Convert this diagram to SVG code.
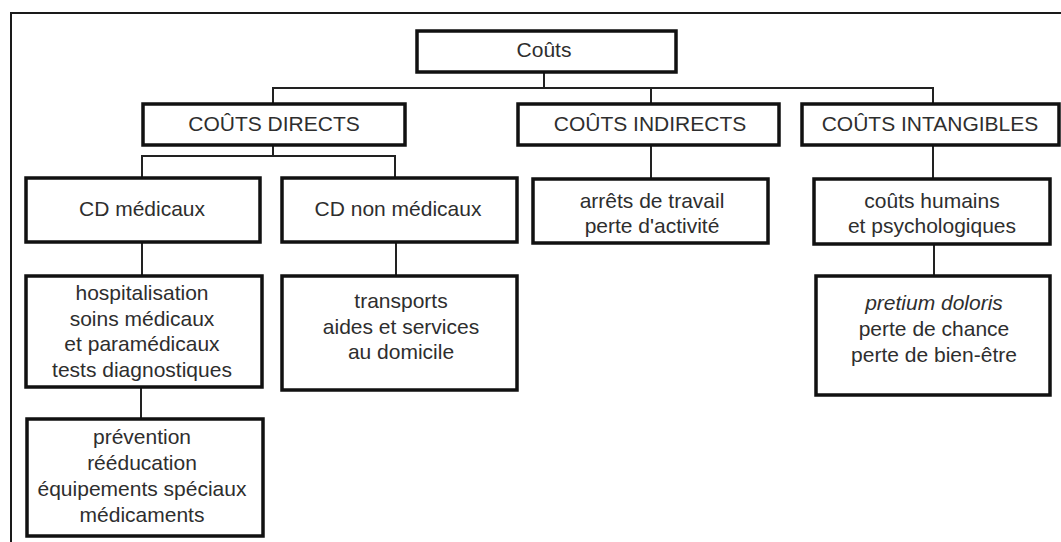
<svg xmlns="http://www.w3.org/2000/svg" width="1061" height="542" viewBox="0 0 1061 542">
  <style>
    .box { fill: #ffffff; stroke: #111111; stroke-width: 3.5; }
    .link { fill: none; stroke: #222222; stroke-width: 2; }
    .frame { fill: none; stroke: #1a1a1a; stroke-width: 2; }
    text { font-family: "Liberation Sans", Arial, sans-serif; font-size: 21px; fill: #2e2e2e; text-anchor: middle; }
    .it { font-style: italic; }
  </style>

  <rect x="0" y="0" width="1061" height="542" fill="#ffffff"/>
  <!-- outer frame (top and left edges) -->
  <path class="frame" d="M11,542 V13 H1061"/>

  <!-- connectors -->
  <g id="connectors">
    <path class="link" d="M544,72 V88"/>
    <path class="link" d="M273,104 V88 H933 V103"/>
    <path class="link" d="M651,88 V103"/>
    <path class="link" d="M273,145 V156"/>
    <path class="link" d="M142,178 V156 H395 V178"/>
    <path class="link" d="M651,145 V179"/>
    <path class="link" d="M933,145 V179"/>
    <path class="link" d="M142,242 V276"/>
    <path class="link" d="M396,242 V276"/>
    <path class="link" d="M934,244 V276"/>
    <path class="link" d="M141,387 V419"/>
  </g>

  <g id="couts">
    <rect class="box" x="417" y="31" width="259" height="41"/>
    <text x="544" y="57">Coûts</text>
  </g>

  <g id="couts-directs">
    <rect class="box" x="143" y="104" width="262" height="41"/>
    <text x="274" y="131">COÛTS DIRECTS</text>
  </g>

  <g id="couts-indirects">
    <rect class="box" x="518" y="104" width="261" height="41"/>
    <text x="650" y="131">COÛTS INDIRECTS</text>
  </g>

  <g id="couts-intangibles">
    <rect class="box" x="802" y="104" width="257" height="41"/>
    <text x="930" y="131">COÛTS INTANGIBLES</text>
  </g>

  <g id="cd-medicaux">
    <rect class="box" x="26" y="178" width="234" height="64"/>
    <text x="142" y="216">CD médicaux</text>
  </g>

  <g id="cd-non-medicaux">
    <rect class="box" x="282" y="178" width="235" height="64"/>
    <text x="398" y="216">CD non médicaux</text>
  </g>

  <g id="arrets">
    <rect class="box" x="533" y="179" width="235" height="64"/>
    <text x="652" y="208">arrêts de travail</text>
    <text x="652" y="233">perte d'activité</text>
  </g>

  <g id="humains">
    <rect class="box" x="814" y="179" width="236" height="65"/>
    <text x="932" y="208">coûts humains</text>
    <text x="932" y="233">et psychologiques</text>
  </g>

  <g id="soins">
    <rect class="box" x="26" y="276" width="236" height="111"/>
    <text x="142" y="300">hospitalisation</text>
    <text x="142" y="325.5">soins médicaux</text>
    <text x="142" y="351">et paramédicaux</text>
    <text x="142" y="376.5">tests diagnostiques</text>
  </g>

  <g id="transports">
    <rect class="box" x="282" y="276" width="235" height="114"/>
    <text x="401" y="308">transports</text>
    <text x="401" y="333.5">aides et services</text>
    <text x="401" y="359">au domicile</text>
  </g>

  <g id="pretium">
    <rect class="box" x="816" y="276" width="234" height="119"/>
    <text x="934" y="310" class="it">pretium doloris</text>
    <text x="934" y="336">perte de chance</text>
    <text x="934" y="362">perte de bien-être</text>
  </g>

  <g id="prevention">
    <rect class="box" x="27" y="419" width="236" height="117"/>
    <text x="142" y="444">prévention</text>
    <text x="142" y="470">rééducation</text>
    <text x="142" y="496">équipements spéciaux</text>
    <text x="142" y="522">médicaments</text>
  </g>
</svg>
